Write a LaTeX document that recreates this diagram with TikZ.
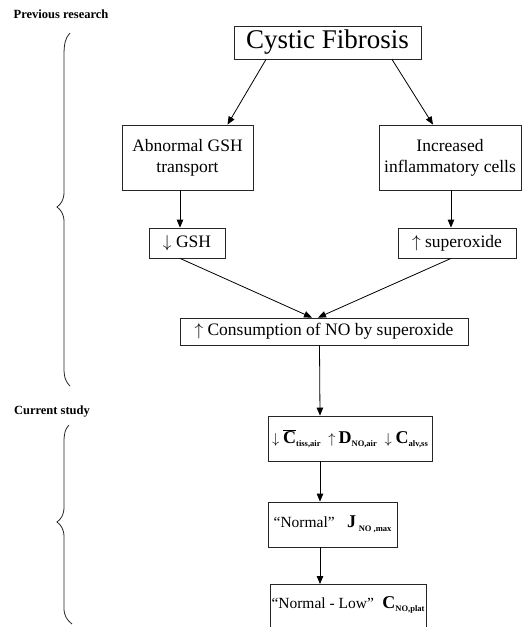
\documentclass[tikz,border=0pt]{standalone}
\usepackage{fontspec}
\setmainfont{Liberation Serif}
\usetikzlibrary{arrows.meta}
\newcommand{\bsub}[1]{\raisebox{-0.5ex}{\fontsize{8.5}{9}\selectfont\bfseries #1}}
\newcommand{\bigb}[1]{{\fontsize{18}{20}\selectfont\bfseries #1}}
\newcommand{\dnar}{$\downarrow$}
\newcommand{\upar}{$\uparrow$}
\begin{document}
\begin{tikzpicture}[x=1pt,y=-1pt,
  boxst/.style={draw=black!85, line width=0.8pt, inner sep=0pt, align=center, font=\fontsize{17.5}{20}\selectfont},
  smallst/.style={font=\fontsize{15.5}{18}\selectfont},
  arrst/.style={draw=black, line width=0.8pt, -{Triangle[length=8pt,width=6.5pt]}},
  lblst/.style={font=\fontsize{12.5}{14}\selectfont\bfseries, inner sep=0pt},
  bracest/.style={draw=black!85, line width=0.8pt}]
\useasboundingbox (0,0) rectangle (525,627);
\clip (0,0) rectangle (525,627);

% labels
\node[lblst] (prev) at (61,14) {Previous research};
\node[lblst] (curr) at (52,412) {Current study};

% braces
\draw[bracest] (70,33) .. controls (65,38) and (64,45) .. (64,55) -- (64,192)
  .. controls (64,200) and (61,204) .. (57,207)
  .. controls (61,210) and (64,214) .. (64,222) -- (64,368)
  .. controls (64,378) and (66,382) .. (70,386);
\draw[bracest] (69,425) .. controls (65,429) and (64,434) .. (64,442) -- (64,507)
  .. controls (64,515) and (61,519) .. (57,522)
  .. controls (61,525) and (64,529) .. (64,537) -- (64,608)
  .. controls (64,616) and (67,620) .. (72,624);

% boxes
\node[boxst, minimum width=187pt, minimum height=33pt, font=\fontsize{27}{30}\selectfont] (cf) at (327.5,42.5) {Cystic Fibrosis};
\node[boxst, minimum width=131pt, minimum height=65pt] (abn) at (187.5,157.5) {Abnormal GSH\\[1pt]transport};
\node[boxst, minimum width=142pt, minimum height=65pt] (inc) at (450,157.5) {Increased\\[1pt]inflammatory cells};
\node[boxst, minimum width=76pt, minimum height=30pt] (gsh) at (187,243) {\dnar\hspace{0.25em}GSH};
\node[boxst, minimum width=118pt, minimum height=30pt] (sup) at (457,243) {\upar\hspace{0.25em}superoxide};
\node[boxst, minimum width=288pt, minimum height=27pt] (cons) at (324,331.5) {\upar\hspace{0.25em}Consumption of NO by superoxide};
\node[boxst, smallst, minimum width=164pt, minimum height=45pt] (tiss) at (350,438.5)
  {\dnar\hspace{0.25em}\bigb{$\overline{\mbox{\bfseries C}}$}\bsub{tiss,air}\hspace{0.5em}\upar\hspace{0.2em}\bigb{D}\bsub{NO,air}\hspace{0.5em}\dnar\hspace{0.25em}\bigb{C}\bsub{alv,ss}};
\node[boxst, smallst, minimum width=129pt, minimum height=45pt] (norm) at (332.5,524.5)
  {“Normal”\hspace{0.8em}\bigb{J}\,\bsub{NO ,max}};
\node[boxst, minimum width=156pt, minimum height=66pt, anchor=north] (low) at (348,584) {};
\node[smallst, inner sep=0pt] (lowtxt) at (348,605) {“Normal - Low”\hspace{0.55em}\bigb{C}\bsub{NO,plat}};

% connectors
\draw[arrst] ([xshift=-61.5pt]cf.south) -- ([xshift=40pt]abn.north);
\draw[arrst] ([xshift=64.5pt]cf.south) -- ([xshift=-17pt]inc.north);
\draw[arrst] ([xshift=-7.5pt]abn.south) -- ([xshift=-7pt]gsh.north);
\draw[arrst] ([xshift=1pt]inc.south) -- ([xshift=-6pt]sup.north);
\draw[arrst] ([xshift=-7pt]gsh.south) -- ([xshift=-12pt]cons.north);
\draw[arrst] ([xshift=-6pt]sup.south) -- ([xshift=-6pt]cons.north);
\draw[arrst] ([xshift=-4.5pt]cons.south) -- ([xshift=-30pt]tiss.north);
\draw[arrst] ([xshift=-30pt]tiss.south) -- ([xshift=-12.5pt]norm.north);
\draw[arrst] ([xshift=-12.5pt]norm.south) -- ([xshift=-28pt]low.north);
\end{tikzpicture}
\end{document}
